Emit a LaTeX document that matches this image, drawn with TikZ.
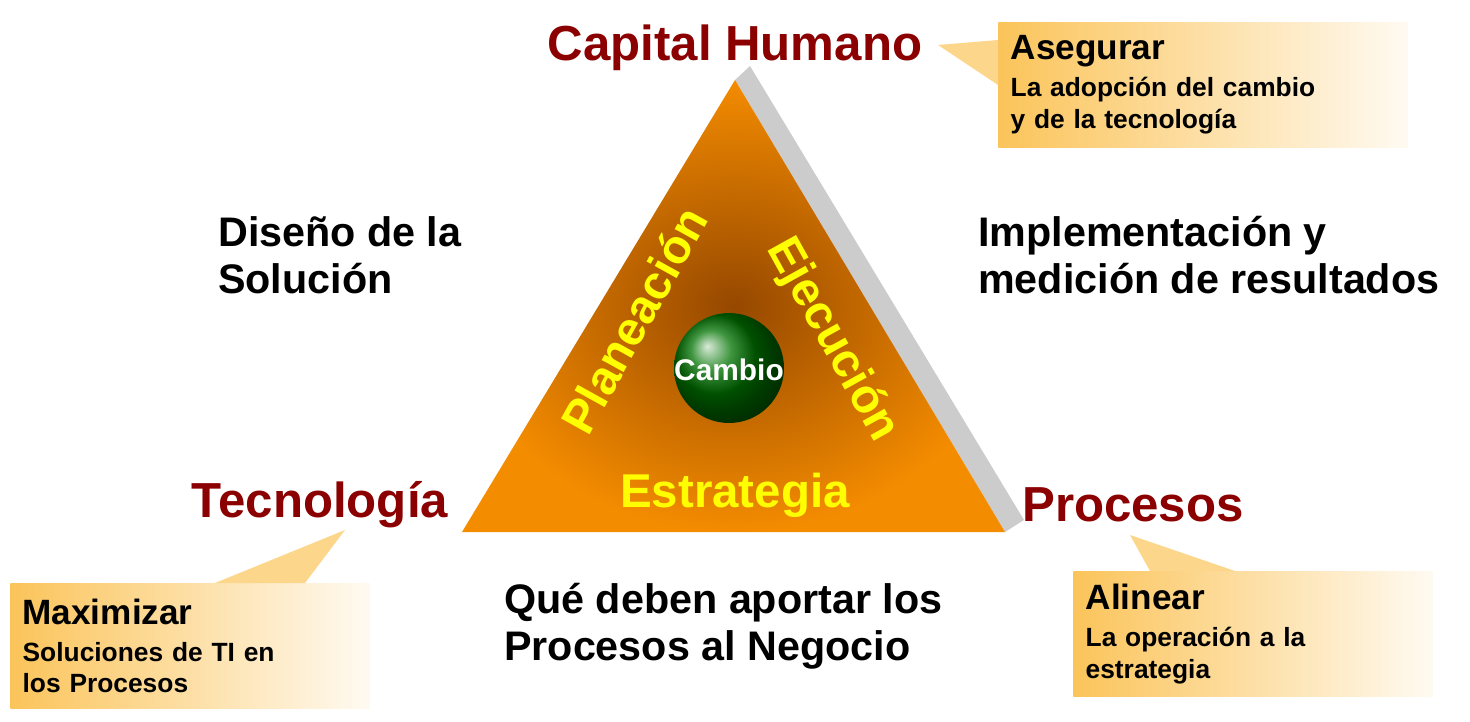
\documentclass[tikz,border=0pt]{standalone}
\usepackage{fontspec}
\setmainfont{Liberation Sans}
\usetikzlibrary{positioning}
\definecolor{darkred}{RGB}{139,0,0}
\definecolor{callout}{RGB}{251,196,90}
\definecolor{triorange}{RGB}{244,140,0}
\definecolor{tribrown}{RGB}{150,72,0}
\definecolor{sunyellow}{RGB}{255,255,0}
\tikzset{
  corner/.style={font=\bfseries\fontsize{28}{32}\selectfont, text=darkred},
  note/.style={font=\bfseries\fontsize{23.5}{27}\selectfont, align=left, anchor=west},
  phase/.style={font=\bfseries\fontsize{27}{30}\selectfont, text=sunyellow},
  callbox/.style={left color=callout, right color=callout!8, draw=none,
    font=\bfseries\fontsize{15}{18}\selectfont,
    align=left, text width=#1, inner sep=7pt, minimum height=2.5cm, anchor=north west},
  pointer/.style={fill=callout!70, draw=none}
}
\newcommand{\calltext}[2]{{\fontsize{20}{24}\selectfont #1}\\[3pt] #2}
\begin{document}
\begin{tikzpicture}[x=0.02cm,y=-0.02cm]
\useasboundingbox (0,0) rectangle (1470,722);
% triangle with shadow
\coordinate (top) at (735,80);
\coordinate (left) at (462,532);
\coordinate (right) at (1005,532);
\fill[gray!40] (top) -- (750,66) -- (1024,520) -- (right) -- cycle;
\shade[inner color=tribrown, outer color=triorange] (top) -- (left) -- (right) -- cycle;
\shade[ball color=green!45!black] (729,368) circle (55);
\node[text=white, font=\bfseries\fontsize{17}{20}\selectfont] (cambio) at (729,370) {Cambio};
% phases
\node[phase, rotate=61] (plan) at (634,320) {Planeación};
\node[phase, rotate=-61] (ejec) at (832,340) {Ejecución};
\node[phase] (estr) at (735,495) {Estrategia};
% corners
\node[corner] (capital) at (735,48) {Capital Humano};
\node[corner] (tecno) at (320,505) {Tecnología};
\node[corner] (proc) at (1133,505) {Procesos};
% notes
\node[note] (diseno) at (212,255) {Diseño de la\\Solución};
\node[note] (impl) at (972,255) {Implementación y\\medición de resultados};
\node[note] (que) at (498,626) {Qué deben aportar los\\Procesos al Negocio};
% callouts
\node[callbox=7.7cm] (asegurar) at (998,22)
  {\calltext{Asegurar}{La adopción del cambio\\y de la tecnología}};
\fill[pointer] (asegurar.west |- 0,40) -- (938,45) -- (asegurar.west |- 0,85) -- cycle;
\node[callbox=6.7cm] (maxim) at (10,583)
  {\calltext{Maximizar}{Soluciones de TI en\\los Procesos}};
\fill[pointer] (215,583) -- (345,530) -- (305,583) -- cycle;
\node[callbox=6.7cm] (alinear) at (1073,571)
  {\calltext{Alinear}{La operación a la\\estrategia}};
\fill[pointer] (1150,571) -- (1130,535) -- (1235,571) -- cycle;
\end{tikzpicture}
\end{document}
